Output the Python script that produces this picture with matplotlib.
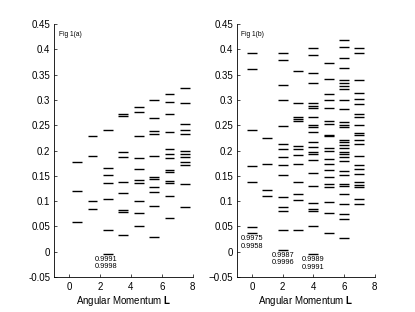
import matplotlib

matplotlib.use("Agg")
import matplotlib.pyplot as plt

plt.rcParams["font.family"] = ["Liberation Sans", "DejaVu Sans"]
plt.rcParams["mathtext.fontset"] = "custom"
plt.rcParams["mathtext.bf"] = "Liberation Sans:bold"
plt.rcParams["mathtext.rm"] = "Liberation Sans"

# angular momentum values
L_values = [0, 1, 2, 3, 4, 5, 6, 7]

# Fig 1(a): energy levels for each L
levels_a = [
    [0.178, 0.120, 0.059],
    [0.229, 0.189, 0.101, 0.084],
    [0.241, 0.165, 0.151, 0.135, 0.104, 0.042, -0.004],
    [0.272, 0.269, 0.197, 0.188, 0.138, 0.116, 0.082, 0.078, 0.034],
    [0.287, 0.276, 0.229, 0.185, 0.164, 0.141, 0.136, 0.100, 0.076, 0.051],
    [0.300, 0.264, 0.238, 0.233, 0.190, 0.147, 0.143, 0.127, 0.118, 0.091, 0.030],
    [0.311, 0.295, 0.273, 0.236, 0.204, 0.194, 0.185, 0.161, 0.158, 0.140, 0.136,
     0.110, 0.066],
    [0.323, 0.294, 0.252, 0.240, 0.233, 0.199, 0.194, 0.188, 0.178, 0.172, 0.134,
     0.089],
]

# Fig 1(b): energy levels for each L
levels_b = [
    [0.392, 0.362, 0.241, 0.170, 0.137, 0.049, 0.037],
    [0.224, 0.174, 0.122, 0.111],
    [0.392, 0.379, 0.330, 0.300, 0.248, 0.213, 0.203, 0.188, 0.172, 0.151, 0.109,
     0.088, 0.080, 0.042, 0.004],
    [0.357, 0.293, 0.266, 0.263, 0.259, 0.208, 0.203, 0.192, 0.174, 0.138, 0.115,
     0.103, 0.042],
    [0.402, 0.388, 0.353, 0.333, 0.293, 0.288, 0.284, 0.266, 0.251, 0.247, 0.236,
     0.216, 0.207, 0.197, 0.193, 0.182, 0.156, 0.130, 0.097, 0.084, 0.080, 0.051,
     -0.005],
    [0.372, 0.342, 0.311, 0.300, 0.284, 0.259, 0.253, 0.231, 0.228, 0.205, 0.199,
     0.183, 0.174, 0.162, 0.147, 0.133, 0.128, 0.098, 0.077, 0.038],
    [0.418, 0.405, 0.382, 0.363, 0.339, 0.333, 0.327, 0.322, 0.299, 0.282, 0.256,
     0.251, 0.246, 0.221, 0.216, 0.210, 0.206, 0.197, 0.194, 0.187, 0.180, 0.159,
     0.152, 0.134, 0.130, 0.115, 0.094, 0.074, 0.065, 0.027],
    [0.402, 0.393, 0.340, 0.314, 0.302, 0.292, 0.273, 0.266, 0.250, 0.235, 0.231,
     0.220, 0.212, 0.190, 0.172, 0.164, 0.154, 0.137, 0.132, 0.128, 0.105, 0.095],
]

# overlap labels under the lowest level of some L
notes_a_L = [2]
notes_a_text = [("0.9991", "0.9998")]
notes_b_L = [0, 2, 4]
notes_b_text = [("0.9975", "0.9958"), ("0.9987", "0.9996"), ("0.9989", "0.9991")]

yticks = [-0.05, 0, 0.05, 0.1, 0.15, 0.2, 0.25, 0.3, 0.35, 0.4, 0.45]
xticks = [0, 2, 4, 6, 8]


def fmt(v, minus="-"):
    s = f"{v:g}"
    return s.replace("-", minus)


def draw_panel(ax, levels, offset, notes_L, notes_text, title, minus):
    half = 0.32
    for L, lv in zip(L_values, levels):
        c = L + offset
        ax.hlines(lv, c - half, c + half, color="black", lw=1.0)
    for L, (t1, t2) in zip(notes_L, notes_text):
        c = L + offset - (0.12 if offset else 0)
        low = min(levels[L])
        ax.text(c, low - 0.011, t1, ha="center", va="center", fontsize=5.3)
        ax.text(c, low - 0.026, t2, ha="center", va="center", fontsize=5.3)
    ax.text(-0.7, 0.43, title, ha="left", va="center", fontsize=4.8)

    ax.set_xlim(-1, 8)
    ax.set_ylim(-0.05, 0.45)
    ax.set_xticks(xticks)
    ax.set_yticks(yticks)
    ax.set_yticklabels([fmt(v, minus) for v in yticks])
    ax.tick_params(direction="in", length=2, width=0.5, labelsize=7, pad=2.5)
    ax.tick_params(axis="x", pad=3.5)
    for side in ["top", "right"]:
        ax.spines[side].set_visible(False)
    for side in ["left", "bottom"]:
        ax.spines[side].set_linewidth(0.6)
    ax.set_xlabel(r"Angular Momentum $\mathbf{L}$", fontsize=7, labelpad=1.5)


fig = plt.figure(figsize=(4.15, 3.12), dpi=100)
ax1 = fig.add_axes([0.130, 0.112, 0.334, 0.811])
ax2 = fig.add_axes([0.570, 0.112, 0.333, 0.811])

draw_panel(ax1, levels_a, 0.5, notes_a_L, notes_a_text, "Fig 1(a)", "-")
draw_panel(ax2, levels_b, 0.0, notes_b_L, notes_b_text, "Fig 1(b)", "\u2212")

fig.savefig("out.png", dpi=100)
